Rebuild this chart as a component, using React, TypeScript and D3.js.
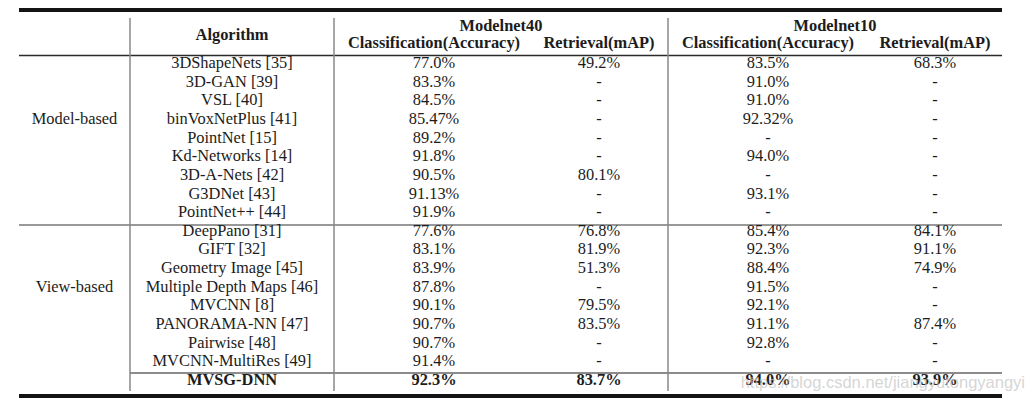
import React from "react";
import * as d3 from "d3";

const groups = ["Model-based", "View-based"];
const groupRow = [3, 12];
const algorithms = [
  "3DShapeNets [35]", "3D-GAN [39]", "VSL [40]", "binVoxNetPlus [41]", "PointNet [15]",
  "Kd-Networks [14]", "3D-A-Nets [42]", "G3DNet [43]", "PointNet++ [44]",
  "DeepPano [31]", "GIFT [32]", "Geometry Image [45]", "Multiple Depth Maps [46]",
  "MVCNN [8]", "PANORAMA-NN [47]", "Pairwise [48]", "MVCNN-MultiRes [49]", "MVSG-DNN",
];
const m40Cls = ["77.0%", "83.3%", "84.5%", "85.47%", "89.2%", "91.8%", "90.5%", "91.13%", "91.9%",
  "77.6%", "83.1%", "83.9%", "87.8%", "90.1%", "90.7%", "90.7%", "91.4%", "92.3%"];
const m40Ret = ["49.2%", "-", "-", "-", "-", "-", "80.1%", "-", "-",
  "76.8%", "81.9%", "51.3%", "-", "79.5%", "83.5%", "-", "-", "83.7%"];
const m10Cls = ["83.5%", "91.0%", "91.0%", "92.32%", "-", "94.0%", "-", "93.1%", "-",
  "85.4%", "92.3%", "88.4%", "91.5%", "92.1%", "91.1%", "92.8%", "-", "94.0%"];
const m10Ret = ["68.3%", "-", "-", "-", "-", "-", "-", "-", "-",
  "84.1%", "91.1%", "74.9%", "-", "-", "87.4%", "-", "-", "93.9%"];
const datasets = ["Modelnet40", "Modelnet10"];
const metrics = ["Classification(Accuracy)", "Retrieval(mAP)", "Classification(Accuracy)", "Retrieval(mAP)"];
const boldRow = 17;

export default function App() {
  const W = 1032, H = 404;
  const y = d3.scaleLinear().domain([0, 17]).range([68, 385]);
  const colX = [74.5, 232, 434, 599, 768, 935];
  const valueCols = [m40Cls, m40Ret, m10Cls, m10Ret];
  const font = "'Liberation Serif', 'Times New Roman', serif";
  const fs = 16.4;
  const txt = "#1c1c1c";
  return (
    <svg width={W} height={H} style={{ position: "absolute", left: 0, top: 0, background: "#fff" }}
      fontFamily={font} fontSize={fs}>
      <rect x={0} y={0} width={W} height={H} fill="#fff" />
      {/* rules */}
      <line x1={19} x2={1002} y1={10} y2={10} stroke="#141414" strokeWidth={4} />
      <line x1={19} x2={1002} y1={55.5} y2={55.5} stroke="#2a2a2a" strokeWidth={1.4} />
      <line x1={19} x2={1002} y1={225} y2={225} stroke="#777" strokeWidth={1.5} />
      <line x1={130} x2={1002} y1={373} y2={373} stroke="#666" strokeWidth={1.4} />
      <line x1={19} x2={1002} y1={396} y2={396} stroke="#141414" strokeWidth={4} />
      {[130, 334, 668].map((x) => (
        <line key={x} x1={x} x2={x} y1={18} y2={391} stroke="#888" strokeWidth={1.5} />
      ))}
      {/* header */}
      <text x={colX[1]} y={39.5} textAnchor="middle" fontWeight="bold" fill={txt}>Algorithm</text>
      {datasets.map((d, i) => (
        <text key={d} x={i === 0 ? 501 : 835} y={30.5} textAnchor="middle" fontWeight="bold" fill={txt}>{d}</text>
      ))}
      {metrics.map((m, i) => (
        <text key={i} x={colX[2 + i]} y={48} textAnchor="middle" fontWeight="bold" fill={txt}>{m}</text>
      ))}
      {/* groups */}
      {groups.map((g, i) => (
        <text key={g} x={colX[0]} y={y(groupRow[i])} textAnchor="middle" fill={txt}>{g}</text>
      ))}
      {/* rows */}
      {algorithms.map((a, r) => (
        <g key={a} fontWeight={r === boldRow ? "bold" : "normal"} fill={txt}>
          <text x={colX[1]} y={y(r)} textAnchor="middle">{a}</text>
          {valueCols.map((col, c) => (
            <text key={c} x={colX[2 + c]} y={y(r)} textAnchor="middle">{col[r]}</text>
          ))}
        </g>
      ))}
      {/* watermark */}
      <text x={1025} y={388} textAnchor="end" fontFamily="'Liberation Sans', Arial, sans-serif"
        fontSize={16.5} fill="rgba(195,195,195,0.7)">https://blog.csdn.net/jiangyutongyangyi</text>
    </svg>
  );
}
